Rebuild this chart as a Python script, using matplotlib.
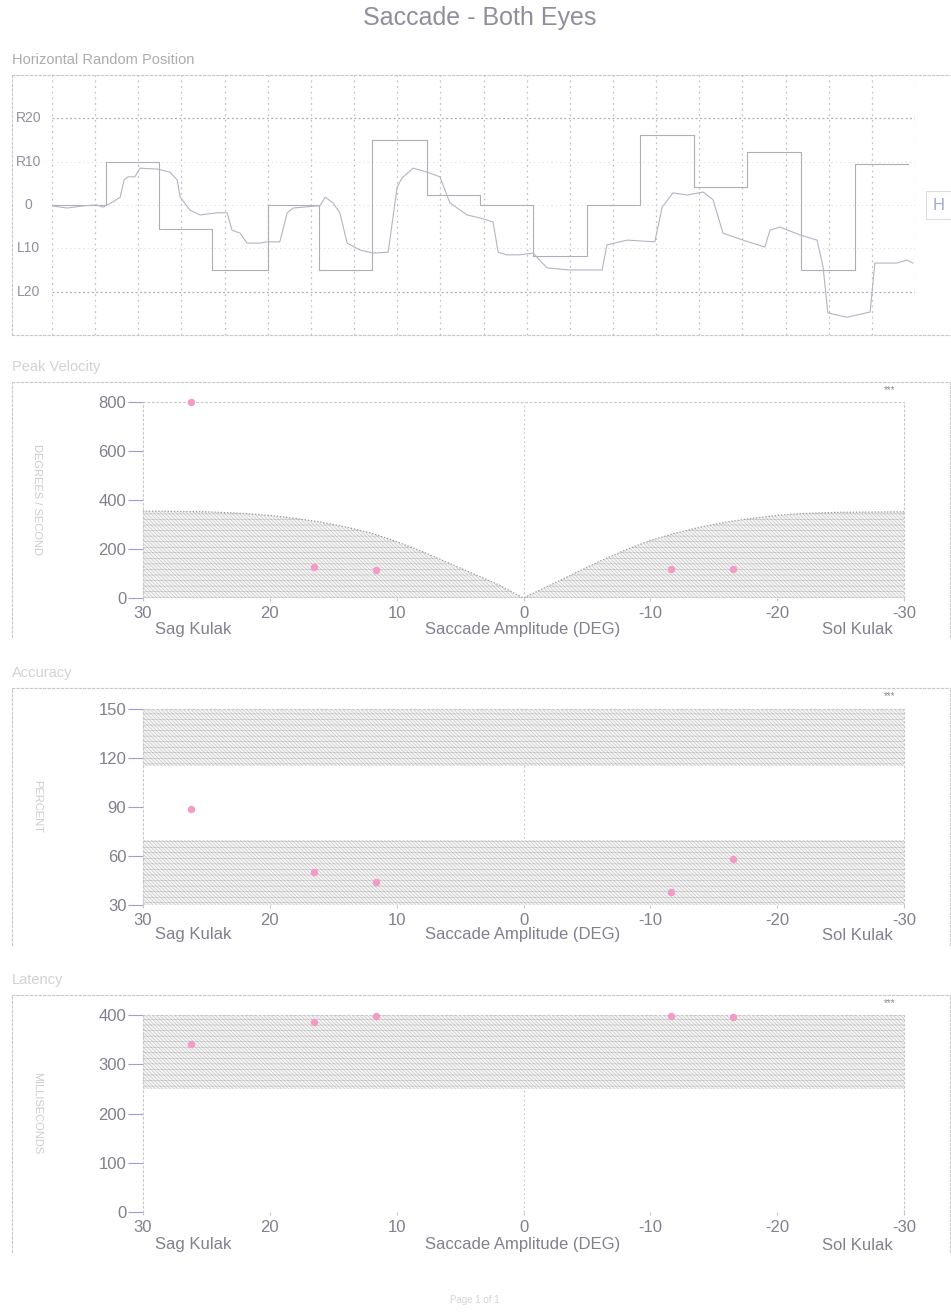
import matplotlib
matplotlib.use('Agg')
import matplotlib.pyplot as plt

plt.rcParams['font.family'] = ['Liberation Sans', 'DejaVu Sans']
plt.rcParams['hatch.linewidth'] = 0.35
plt.rcParams['hatch.color'] = '#bcbcbc'

W, H = 951, 1314

# ---- horizontal random position (time in grid units, position in degrees) ----
step_times = [0, 1.25, 2.48, 3.71, 5.01, 6.19, 7.42, 8.69, 9.92, 11.15, 12.40,
              13.63, 14.88, 16.11, 17.36, 18.61, 19.84]
step_levels = [0, 10, -5.5, -15, 0, -15, 15, 2.2, 0, -11.7, 0, 16.2, 4.1, 12.3, -15, 9.4]

trace_t = [0.00, 0.35, 0.72, 1.04, 1.18, 1.41, 1.58, 1.67, 1.76, 1.92, 2.04, 2.43,
           2.73, 2.90, 2.97, 3.20, 3.43, 3.82, 4.06, 4.17, 4.36, 4.52, 4.82, 4.98,
           5.28, 5.45, 5.59, 6.14, 6.21, 6.33, 6.51, 6.67, 6.84, 7.14, 7.44, 7.79,
           8.00, 8.11, 8.37, 8.69, 8.99, 9.22, 9.62, 9.92, 10.22, 10.34, 10.54,
           10.85, 11.15, 11.47, 12.00, 12.75, 12.86, 13.33, 13.97, 14.14, 14.39,
           14.72, 15.09, 15.32, 15.55, 16.01, 16.52, 16.64, 16.87, 17.33, 17.73,
           17.87, 17.98, 18.42, 18.96, 19.07, 19.58, 19.81, 19.95]
trace_deg = [-0.2, -0.7, -0.2, 0.0, -0.5, 0.7, 1.8, 5.8, 6.5, 6.5, 8.5, 8.3,
             7.6, 5.8, 1.8, -1.2, -2.3, -1.8, -1.8, -5.8, -6.5, -8.8, -8.8, -8.5,
             -8.5, -1.8, -0.7, -0.2, -0.2, 1.8, 0.5, -1.8, -8.8, -10.4, -11.1, -10.9,
             4.2, 6.2, 8.5, 7.6, 6.5, 0.5, -2.3, -3.0, -3.9, -10.9, -11.5,
             -11.5, -11.1, -14.5, -15.0, -15.0, -9.2, -8.1, -8.5, -0.5, 2.8,
             2.3, 3.0, 1.2, -6.5, -8.1, -9.7, -5.8, -5.1, -6.9, -8.1,
             -14.3, -24.9, -25.9, -24.7, -13.4, -13.4, -12.7, -13.4]
pos_ticks = [20, 10, 0, -10, -20]
pos_labels = ['R20', 'R10', '0', 'L10', 'L20']

# ---- saccade results ----
amplitude = [26.2, 16.5, 11.6, -11.6, -16.5]
peak_velocity = [800, 127, 114, 118, 118]
accuracy = [89, 50, 44, 38, 58]
latency = [341, 385, 398, 398, 396]

# normal ranges
vel_amp = [-30, -25, -22, -20, -18, -16, -14, -12, -10, -8, -6, -4, -2, 0,
           2, 4, 6, 8, 10, 12, 14, 16, 18, 20, 22, 25, 30]
vel_upper = [352, 350, 345, 337, 325, 310, 290, 265, 235, 195, 150, 100, 50, 0,
             55, 100, 145, 190, 230, 265, 290, 310, 325, 337, 345, 352, 355]
acc_low = (30, 70)
acc_high = (115, 150)
lat_band = (250, 400)

amp_ticks = [30, 20, 10, 0, -10, -20, -30]

TXT = '#80808e'
GRID = '#c2c2c2'
PINK = '#f39ac6'
HATCH = '\\' * 9 + '---'


def rect(x0, y0, x1, y1):
    return [x0 / W, 1 - y1 / H, (x1 - x0) / W, (y1 - y0) / H]


def ftext(x, y, s, **kw):
    fig.text(x / W, 1 - y / H, s, **kw)


def frame_box(top, bottom, right=950):
    fr = fig.add_axes(rect(12, top, right, bottom))
    fr.set_xticks([])
    fr.set_yticks([])
    fr.set_facecolor('none')
    for side in ['top', 'left', 'right', 'bottom']:
        fr.spines[side].set_linestyle((0, (2, 2)))
        fr.spines[side].set_color('#c8c8c8')
        fr.spines[side].set_linewidth(0.8)
    fr.spines['bottom'].set_visible(False)
    return fr


fig = plt.figure(figsize=(W / 100, H / 100), dpi=100)
fig.patch.set_facecolor('white')

ftext(480, 18, 'Saccade - Both Eyes', fontsize=18, color='#8e8e9e', ha='center', va='center')

# ---------------- panel 1 ----------------
ftext(12, 60, 'Horizontal Random Position', fontsize=10.5, color='#acacac', va='center')
fr = frame_box(75, 335, right=951)
fr.spines['right'].set_visible(False)
fr.spines['bottom'].set_visible(True)

ax = fig.add_axes(rect(52, 75, 915, 335))
ax.set_xlim(0, 20)
ax.set_ylim(-30, 30)
ax.set_facecolor('none')
ax.axis('off')
for t in range(0, 21):
    ax.axvline(t, color=GRID, ls=(0, (1.5, 3)), lw=0.9)
for v in [20, -20]:
    ax.axhline(v, color='#acacac', ls=(0, (1.5, 2)), lw=0.9)
for v in [10, 0, -10]:
    ax.axhline(v, color='#e2e2e2', ls=(0, (1.5, 3)), lw=0.7)
for v, lab in zip(pos_ticks, pos_labels):
    ax.text(-0.55, v, lab, fontsize=10, color='#9090a0', ha='center', va='center',
            clip_on=False)
ax.step(step_times, step_levels + [step_levels[-1]], where='post', color='#aeaeb6', lw=0.8)
ax.plot(trace_t, trace_deg, color='#b4b4c2', lw=0.8)
ax.text(20.55, 0, 'H', fontsize=12, color='#a4acd0', ha='center', va='center', clip_on=False,
        bbox=dict(boxstyle='square,pad=0.4', fc='white', ec='#dcdcdc', lw=0.8))


# ---------------- amplitude panels ----------------
def amp_panel(ftop, fbottom, ptop, pbottom, ylim, yticks, title, title_y, ylabel, names_y, values):
    frame_box(ftop, fbottom)
    ftext(12, title_y, title, fontsize=10.5, color='#d2d2d2', va='center')
    ftext(37, (ptop + pbottom) / 2, ylabel, fontsize=8, color='#cccccc', ha='center',
          va='center', rotation=270)
    ftext(890, ftop + 8, '***', fontsize=7, color='#8a8a8a', ha='center', va='center')
    a = fig.add_axes(rect(143, ptop, 904, pbottom))
    a.set_xlim(30, -30)
    a.set_ylim(*ylim)
    a.set_facecolor('none')
    a.set_xticks(amp_ticks)
    a.set_xticklabels([str(v) for v in amp_ticks])
    a.set_yticks(yticks)
    a.tick_params(axis='x', length=2, color='#c8c8c8', labelsize=12, labelcolor=TXT, pad=4)
    a.tick_params(axis='y', length=11, color='#a0a0cc', width=0.8, labelsize=12,
                  labelcolor=TXT, pad=1)
    for side in ['left', 'right', 'top']:
        a.spines[side].set_linestyle((0, (1.5, 2.5)))
        a.spines[side].set_color('#c8c8c8')
        a.spines[side].set_linewidth(0.8)
    a.spines['bottom'].set_visible(False)
    a.axvline(0, color='#c8c8c8', ls=(0, (1.5, 2.5)), lw=0.8, zorder=1)
    ftext(193, names_y, 'Sag Kulak', fontsize=12, color=TXT, ha='center', va='center')
    ftext(523, names_y, 'Saccade Amplitude (DEG)', fontsize=12, color=TXT, ha='center', va='center')
    ftext(857, names_y, 'Sol Kulak', fontsize=12, color=TXT, ha='center', va='center')
    a.scatter(amplitude, values, s=28, color=PINK, zorder=5, clip_on=False, linewidths=0)
    return a


def band(a, x, lo, hi):
    a.fill_between(x, lo, hi, facecolor='#f4f4f4', hatch=HATCH, edgecolor='#bcbcbc',
                   lw=0, zorder=2)


a2 = amp_panel(382, 637, 402, 598, (0, 800), [0, 200, 400, 600, 800], 'Peak Velocity', 367,
               'DEGREES / SECOND', 630, peak_velocity)
band(a2, vel_amp, 0, vel_upper)
a2.plot(vel_amp, vel_upper, color='#9a9a9a', ls=(0, (1, 1.5)), lw=0.9, zorder=3)

a3 = amp_panel(688, 945, 709, 905, (30, 150), [30, 60, 90, 120, 150], 'Accuracy', 673,
               'PERCENT', 935, accuracy)
for lo, hi in [acc_low, acc_high]:
    band(a3, [30, -30], lo, hi)

a4 = amp_panel(995, 1252, 1015, 1212, (0, 400), [0, 100, 200, 300, 400], 'Latency', 980,
               'MILLISECONDS', 1245, latency)
band(a4, [30, -30], lat_band[0], lat_band[1])

ftext(475, 1300, 'Page 1 of 1', fontsize=7, color='#d4d4d4', ha='center', va='center')

fig.savefig('out.png', dpi=100)
